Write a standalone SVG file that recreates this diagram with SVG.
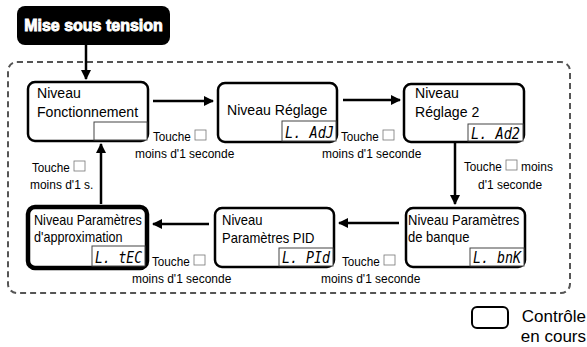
<svg xmlns="http://www.w3.org/2000/svg" width="587" height="347" viewBox="0 0 587 347">
<defs>
<marker id="ah" viewBox="0 0 10 10" refX="9" refY="5" markerWidth="4" markerHeight="4" orient="auto" markerUnits="strokeWidth">
<path d="M0,0 L10,5 L0,10 z" fill="#000"/>
</marker>
<style>
.node{fill:#fff;stroke:#000;stroke-width:2.5}
.thick{stroke-width:4.5}
.disp{fill:#fff;stroke:#444;stroke-width:1}
.nt{font-family:"Liberation Sans",Arial,sans-serif;font-size:15px;fill:#000}
.nb{font-family:"Liberation Sans",Arial,sans-serif;font-size:14px;fill:#000}
.lb{font-family:"Liberation Sans",Arial,sans-serif;font-size:13px;fill:#000}
.seg{font-family:"DejaVu Sans Mono",monospace;font-style:italic;font-size:15px;fill:#000}
.key{fill:#fff;stroke:#777;stroke-width:0.8}
.conn{fill:none;stroke:#000;stroke-width:2.5;marker-end:url(#ah)}
</style>
</defs>
<rect width="587" height="347" fill="#fff"/>
<rect x="8" y="62" width="562" height="231" rx="9" fill="none" stroke="#555" stroke-width="2" stroke-dasharray="6 4"/>

<g id="start">
<rect x="17" y="6" width="153" height="39" rx="8" fill="#000"/>
<text x="93.5" y="31" text-anchor="middle" font-family="Liberation Sans,Arial,sans-serif" font-weight="bold" font-size="16" fill="#fff" stroke="#fff" stroke-width="0.9">Mise sous tension</text>
</g>

<g id="connectors">
<line class="conn" x1="86" y1="45" x2="86" y2="79"/>
<line class="conn" x1="153" y1="101" x2="213" y2="101"/>
<line class="conn" x1="343" y1="100" x2="400" y2="100"/>
<line class="conn" x1="455" y1="143" x2="455" y2="204"/>
<line class="conn" x1="399" y1="223" x2="339" y2="223"/>
<line class="conn" x1="209" y1="224" x2="153" y2="224"/>
<line class="conn" x1="101" y1="204" x2="101" y2="144"/>
</g>

<g id="n1">
<rect class="node" x="28" y="82" width="120" height="59" rx="7"/>
<rect class="disp" x="94" y="122" width="53" height="18"/>
<text class="nt" transform="matrix(0.94 0 0 1 37 98)">Niveau</text>
<text class="nt" transform="matrix(0.94 0 0 1 37 117)">Fonctionnement</text>
</g>

<g id="n2">
<rect class="node" x="218" y="83" width="119" height="59" rx="7"/>
<rect class="disp" x="282" y="121" width="54" height="20"/>
<text class="nt" transform="matrix(0.94 0 0 1 227 115)">Niveau Réglage</text>
<text class="seg" x="285" y="138" textLength="49" lengthAdjust="spacingAndGlyphs">L. AdJ</text>
</g>

<g id="n3">
<rect class="node" x="404" y="84" width="120" height="58" rx="7"/>
<rect class="disp" x="468" y="124" width="55" height="17"/>
<text class="nt" transform="matrix(0.94 0 0 1 415 98)">Niveau</text>
<text class="nt" transform="matrix(0.94 0 0 1 415 117)">Réglage 2</text>
<text class="seg" x="471" y="139" textLength="49" lengthAdjust="spacingAndGlyphs">L. Ad2</text>
</g>

<g id="n6">
<rect class="node" x="406" y="208" width="119" height="59" rx="7"/>
<rect class="disp" x="470" y="248" width="54" height="18"/>
<text class="nb" transform="matrix(0.93 0 0 1 408 225)">Niveau Paramètres</text>
<text class="nb" transform="matrix(0.93 0 0 1 408 242)">de banque</text>
<text class="seg" x="473" y="263" textLength="48" lengthAdjust="spacingAndGlyphs">L. bnK</text>
</g>

<g id="n5">
<rect class="node" x="215" y="208" width="119" height="59" rx="7"/>
<rect class="disp" x="279" y="248" width="54" height="18"/>
<text class="nb" transform="matrix(0.93 0 0 1 222 225)">Niveau</text>
<text class="nb" transform="matrix(0.93 0 0 1 222 243)">Paramètres PID</text>
<text class="seg" x="282" y="263" textLength="48" lengthAdjust="spacingAndGlyphs">L. PId</text>
</g>

<g id="n4">
<rect class="node thick" x="28" y="207" width="119" height="61" rx="7"/>
<rect class="disp" x="92" y="246" width="53" height="20"/>
<text class="nb" transform="matrix(0.9 0 0 1 34 225)">Niveau Paramètres</text>
<text class="nb" transform="matrix(0.9 0 0 1 34 242)">d'approximation</text>
<text class="seg" x="95" y="263" textLength="47" lengthAdjust="spacingAndGlyphs">L. tEC</text>
</g>

<g id="labels">
<text class="lb" transform="matrix(0.9 0 0 1 153 141)">Touche</text><rect class="key" x="195" y="130" width="11" height="10"/>
<text class="lb" transform="matrix(0.92 0 0 1 135 158)">moins d'1 seconde</text>
<text class="lb" transform="matrix(0.9 0 0 1 341 141)">Touche</text><rect class="key" x="383" y="130" width="11" height="10"/>
<text class="lb" transform="matrix(0.92 0 0 1 322 158)">moins d'1 seconde</text>
<text class="lb" transform="matrix(0.9 0 0 1 464 171)">Touche</text><rect class="key" x="506" y="160" width="11" height="10"/>
<text class="lb" transform="matrix(0.92 0 0 1 521 171)">moins</text>
<text class="lb" transform="matrix(0.92 0 0 1 478 189)">d'1 seconde</text>
<text class="lb" transform="matrix(0.9 0 0 1 32 172)">Touche</text><rect class="key" x="74" y="161" width="11" height="10"/>
<text class="lb" transform="matrix(0.92 0 0 1 30 189)">moins d'1 s.</text>
<text class="lb" transform="matrix(0.9 0 0 1 342 266)">Touche</text><rect class="key" x="384" y="255" width="11" height="10"/>
<text class="lb" transform="matrix(0.92 0 0 1 321 283)">moins d'1 seconde</text>
<text class="lb" transform="matrix(0.9 0 0 1 152 266)">Touche</text><rect class="key" x="194" y="255" width="11" height="10"/>
<text class="lb" transform="matrix(0.92 0 0 1 132 283)">moins d'1 seconde</text>
</g>

<g id="legend">
<rect x="472" y="307" width="36" height="21" rx="5" fill="#fff" stroke="#000" stroke-width="2"/>
<text x="586" y="322" text-anchor="end" font-family="Liberation Sans,Arial,sans-serif" font-size="17">Contrôle</text>
<text x="586" y="342" text-anchor="end" font-family="Liberation Sans,Arial,sans-serif" font-size="17">en cours</text>
</g>
</svg>
